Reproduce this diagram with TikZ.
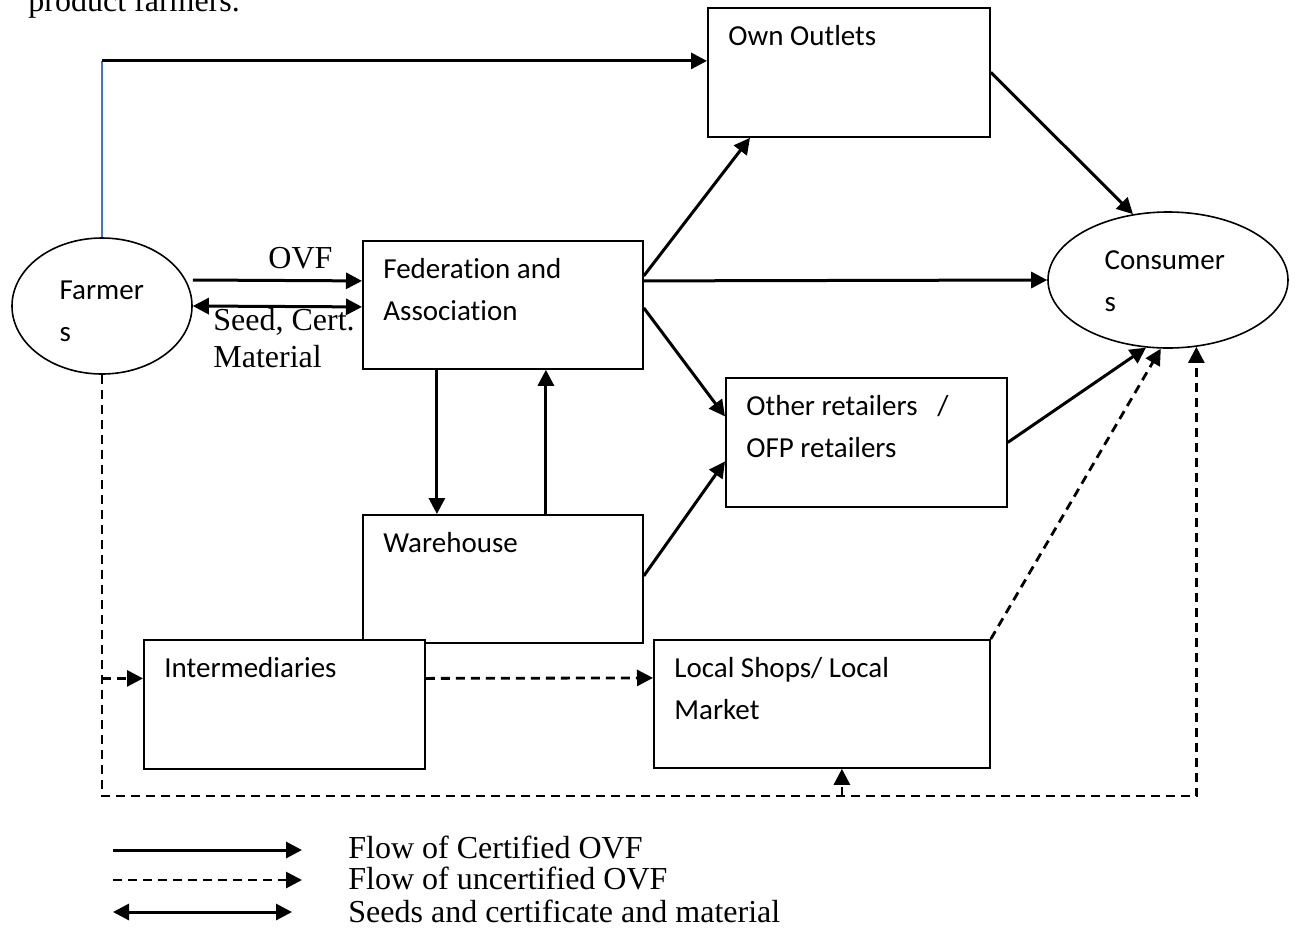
\documentclass[tikz,border=0pt]{standalone}
\usepackage{fontspec}
\setmainfont{Liberation Serif}
\newfontfamily\calibri[Ligatures=NoCommon]{Carlito}
\usetikzlibrary{arrows.meta,positioning,shapes.geometric,calc}
\definecolor{linkblue}{HTML}{4472C4}

\begin{document}
\begin{tikzpicture}[x=0.5pt, y=-0.5pt,
  box/.style={rectangle, draw, line width=0.9pt, fill=white, anchor=north west,
              inner sep=0pt},
  oval/.style={ellipse, draw, line width=0.8pt, inner sep=0pt, minimum height=68pt},
  boxtxt/.style={anchor=north west, align=left, inner sep=0pt,
                 font=\calibri\fontsize{14.5}{21}\selectfont},
  serif/.style={inner sep=0pt, font=\fontsize{16}{18.5}\selectfont},
  arr/.style={-{Triangle[length=8pt,width=8pt]}, line width=1.5pt},
  both/.style={{Triangle[length=8pt,width=8pt]}-{Triangle[length=8pt,width=8pt]},
               line width=1.5pt},
  dasharr/.style={arr, line width=1.4pt, dash pattern=on 4.5pt off 3pt}
]
  \useasboundingbox (0,0) rectangle (1297,928);

  % boxes and ovals
  \node[box, minimum width=141pt, minimum height=64.5pt,
        label={[boxtxt, xshift=10.5pt, yshift=-4.5pt]north west:\strut Own Outlets}] (outlets) at (707,7) {};
  \node[box, minimum width=140pt, minimum height=64pt,
        label={[boxtxt, xshift=10.5pt, yshift=-4.5pt]north west:\strut Federation and\\Association}] (fed) at (362,240) {};
  \node[box, minimum width=140.5pt, minimum height=64.5pt,
        label={[boxtxt, xshift=10.5pt, yshift=-4.5pt]north west:\strut Other retailers\ \ \ /\\OFP retailers}] (other) at (725,377) {};
  \node[box, minimum width=140pt, minimum height=64pt,
        label={[boxtxt, xshift=10.5pt, yshift=-4.5pt]north west:\strut Warehouse}] (ware) at (362,514) {};
  \node[box, minimum width=140.5pt, minimum height=64.5pt,
        label={[boxtxt, xshift=10.5pt, yshift=-4.5pt]north west:\strut Intermediaries}] (inter) at (143,639) {};
  \node[box, minimum width=168pt, minimum height=64pt,
        label={[boxtxt, xshift=10.5pt, yshift=-4.5pt]north west:\strut Local Shops/ Local\\Market}] (local) at (653,639) {};
  \node[oval, minimum width=90pt,
        label={[boxtxt, xshift=24pt, yshift=18.2pt]west:\strut Farmer\\s}] (farmers) at (102,306) {};
  \node[oval, minimum width=120pt,
        label={[boxtxt, xshift=28.5pt, yshift=20.2pt]west:\strut Consumer\\s}] (consumers) at (1168,280) {};

  % texts
  \node[serif, anchor=base west] (cut) at (28,11) {product farmers.};
  \node[serif, anchor=base west] (ovf) at (268,268) {OVF};
  \node[serif, anchor=north west, align=left] (seed) at (213,304) {\strut Seed, Cert.\\Material};

  % certified flow
  \coordinate (tgt) at ([yshift=5.75pt]outlets.west);
  \draw[linkblue, line width=0.6pt] (farmers.north) -- (farmers.north |- tgt);
  \draw[arr] (farmers.north |- tgt) -- (tgt);
  \draw[arr] ([yshift=13pt]farmers.east) -- ([yshift=12pt]fed.west);
  \draw[both] (farmers.east) -- ([yshift=-1pt]fed.west);
  \draw[arr] ([yshift=14.5pt]fed.east) -- ([xshift=21.5pt]outlets.south west);
  \draw[arr] ([yshift=12pt]fed.east) -- (consumers.west);
  \draw[arr] ([yshift=-1.5pt]fed.east) -- ([yshift=13pt]other.west);
  \draw[arr] ([xshift=-33pt]fed.south) -- ([xshift=-33pt]ware.north);
  \draw[arr] ([xshift=21.5pt]ware.north) -- ([xshift=21.5pt]fed.south);
  \draw[arr] ([yshift=1.5pt]ware.east) -- ([yshift=-9.5pt]other.west);
  \draw[arr] (outlets.east) -- (consumers.118);
  \draw[arr] (other.east) -- (consumers.252);

  % uncertified flow
  \coordinate (base) at (102,796);
  \coordinate (lsb) at ([xshift=10pt]local.south);
  \coordinate (im) at ([yshift=13pt]inter.west);
  \draw[dasharr] (farmers.south) -- (base) -| (consumers.293);
  \draw[dasharr] (lsb |- base) -- (lsb);
  \draw[dasharr] (farmers.south |- im) -- (im);
  \draw[dasharr] ([yshift=13pt]inter.east) -- ([yshift=13pt]local.west);
  \draw[dasharr] (local.north east) -- (consumers.264);

  % key
  \coordinate (k1a) at (113,850); \coordinate (k1b) at (302,850);
  \coordinate (k2a) at (113,880); \coordinate (k2b) at (302,880);
  \coordinate (k3a) at (113,912); \coordinate (k3b) at (292,912);
  \draw[arr] (k1a) -- (k1b);
  \draw[dasharr] (k2a) -- (k2b);
  \draw[both] (k3a) -- (k3b);
  \node[serif, anchor=base west] (k1) at (348,858) {Flow of Certified OVF};
  \node[serif, anchor=base west] (k2) at (348,889) {Flow of uncertified OVF};
  \node[serif, anchor=base west] (k3) at (348,922) {Seeds and certificate and material};
\end{tikzpicture}
\end{document}
